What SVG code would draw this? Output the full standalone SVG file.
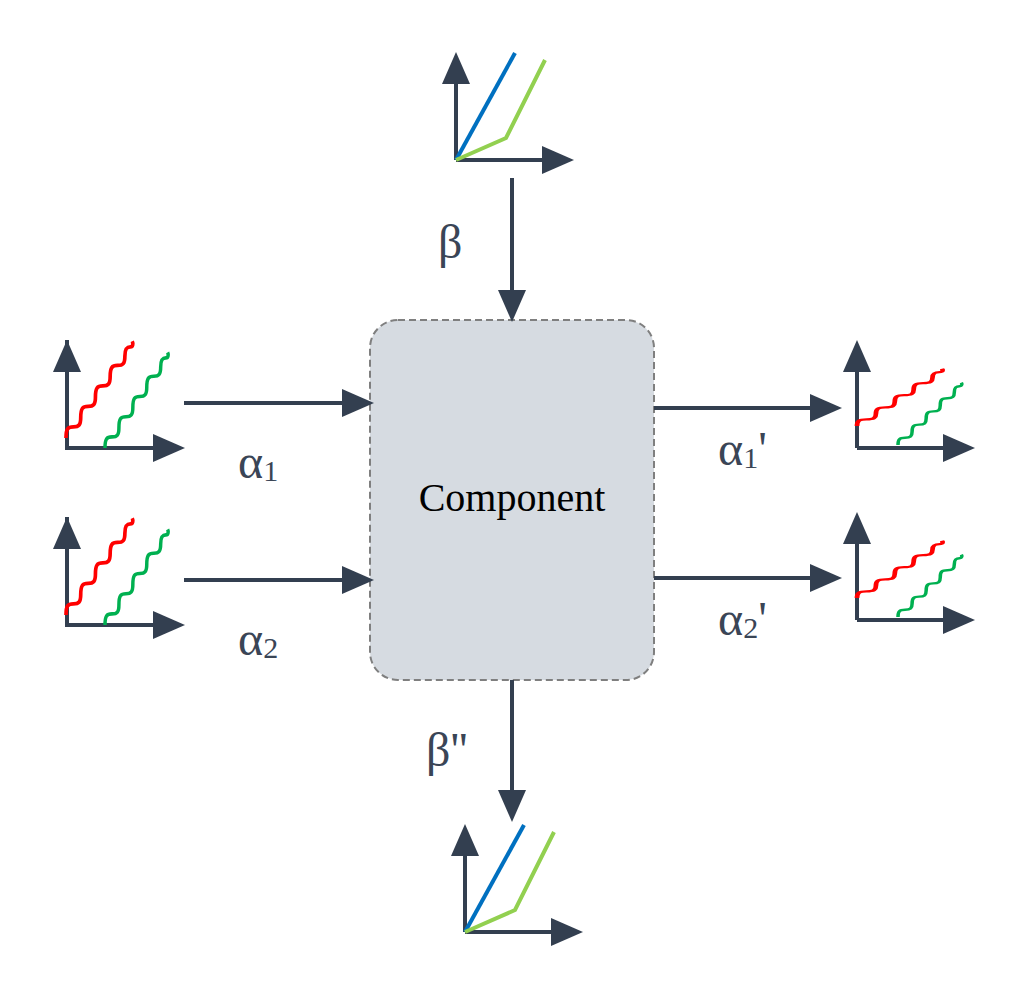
<svg xmlns="http://www.w3.org/2000/svg" xmlns:xlink="http://www.w3.org/1999/xlink" width="1027" height="982" viewBox="0 0 1027 982">
<style>
.ax{stroke:#333f50;stroke-width:4;fill:none}
.ar{stroke:#333f50;stroke-width:4;fill:none}
.lb{font-family:"Liberation Serif",serif;fill:#3a4556;font-size:48px}
.sub{font-size:30px}
.red{stroke:#ff0000;stroke-width:4;fill:none}
.grn{stroke:#00b050;stroke-width:4;fill:none}
.blu{stroke:#0070c0;stroke-width:4;fill:none}
.lg{stroke:#92d050;stroke-width:4;fill:none}
</style>
<defs>
<marker id="ah" markerWidth="8" markerHeight="8" refX="6" refY="4" orient="auto" markerUnits="strokeWidth"><path d="M0,0.5 L8,4 L0,7.5 Z" fill="#333f50"/></marker>
<path id="w" d="M0,0 c0,-10 2,-12 8,-12 c6,0 8,-2 8,-10 c0,-10 2,-12 8,-12 c6,0 8,-2 8,-10 c0,-10 2,-12 8,-12 c6,0 8,-2 8,-10 c0,-10 2,-12 8,-12 c6,0 8,-2 8,-10 c0,-8 2,-10 6,-10 c3,0 3,-4 2,-6"/>
<g id="wc">
<path class="ax" d="M0,-108 L0,0 L110,0" marker-end="url(#ah)"/>
<path class="ax" d="M0,0 L0,-100" marker-end="url(#ah)"/>
<use href="#w" class="red" transform="translate(-1,-10) scale(0.92,0.93)"/>
<use href="#w" class="grn" transform="translate(38,0) scale(0.87,0.92)"/>
</g>
<g id="wr">
<path class="ax" d="M0,0 L110,0" marker-end="url(#ah)"/>
<path class="ax" d="M0,0 L0,-100" marker-end="url(#ah)"/>
<use href="#w" class="red" transform="translate(0,-22) scale(1.18,0.55)"/>
<use href="#w" class="grn" transform="translate(41,-3) scale(0.88,0.6)"/>
</g>
<g id="lc">
<path class="ax" d="M0,0 L110,0" marker-end="url(#ah)"/>
<path class="ax" d="M0,0 L0,-100" marker-end="url(#ah)"/>
<path class="blu" d="M0,0 L59,-107"/>
<path class="lg" d="M0,0 L50,-22 L89,-100"/>
</g>
</defs>
<g id="charts">
<g id="in1"><use href="#wc" x="67" y="448"/></g>
<g id="in2"><use href="#wc" x="67" y="625"/></g>
<g id="out1"><use href="#wr" x="857" y="448"/></g>
<g id="out2"><use href="#wr" x="857" y="620"/></g>
<g id="top"><use href="#lc" x="456" y="160"/></g>
<g id="bottom"><use href="#lc" x="465" y="932"/></g>
</g>
<g id="component">
<rect x="370" y="320" width="284" height="360" rx="28" fill="#d6dbe1" stroke="#7f7f7f" stroke-width="2" stroke-dasharray="7,4"/>
<text x="512" y="511" text-anchor="middle" font-family="Liberation Serif,serif" font-size="40" fill="#000">Component</text>
</g>
<g id="connectors">
<path class="ar" d="M512,178 L512,314" marker-end="url(#ah)"/>
<path class="ar" d="M512,680 L512,814" marker-end="url(#ah)"/>
<path class="ar" d="M184,403 L366,403" marker-end="url(#ah)"/>
<path class="ar" d="M184,580 L366,580" marker-end="url(#ah)"/>
<path class="ar" d="M654,408 L834,408" marker-end="url(#ah)"/>
<path class="ar" d="M654,578 L834,578" marker-end="url(#ah)"/>
</g>
<g id="labels">
<text class="lb" x="438" y="258">β</text>
<text class="lb" x="426" y="766">β''</text>
<text class="lb" x="238" y="478">α<tspan class="sub" dy="3">1</tspan></text>
<text class="lb" x="238" y="655">α<tspan class="sub" dy="3">2</tspan></text>
<text class="lb" x="718" y="465">α<tspan class="sub" dy="3">1</tspan><tspan dy="-3">'</tspan></text>
<text class="lb" x="718" y="635">α<tspan class="sub" dy="3">2</tspan><tspan dy="-3">'</tspan></text>
</g>
</svg>
